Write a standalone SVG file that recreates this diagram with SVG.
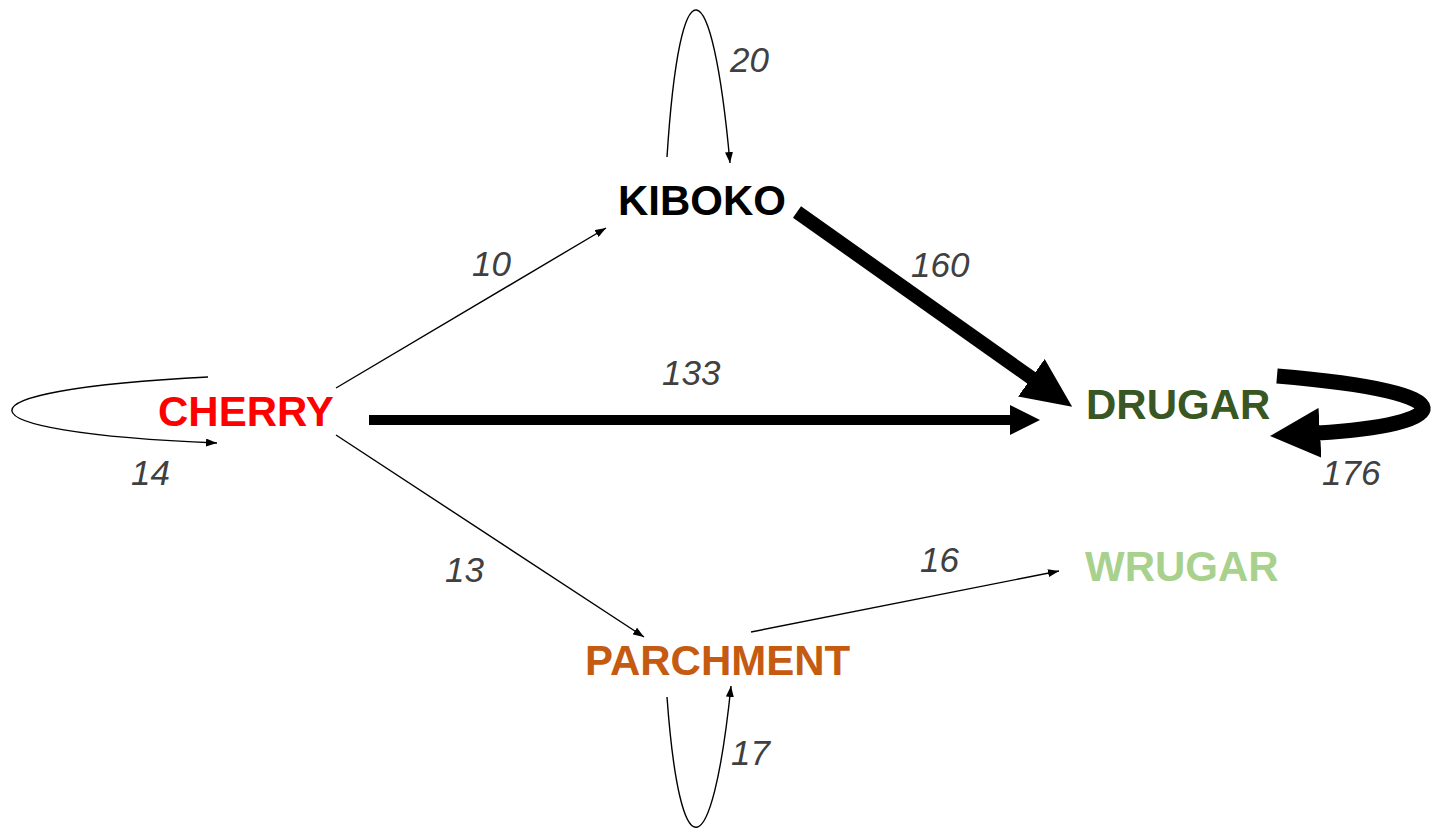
<svg xmlns="http://www.w3.org/2000/svg" width="1435" height="832" viewBox="0 0 1435 832">
<style>
.node{font-family:"Liberation Sans",Arial,sans-serif;font-weight:bold;font-size:42px}
.lbl{font-family:"Liberation Sans",Arial,sans-serif;font-style:italic;font-size:35px;fill:#404040}
.thin{fill:none;stroke:#000;stroke-width:1.4}
</style>
<defs>
<marker id="a" viewBox="0 0 11 8" markerWidth="11" markerHeight="8" refX="11" refY="4" orient="auto" markerUnits="userSpaceOnUse"><path d="M0,0 L11,4 L0,8 Z" fill="#000"/></marker>
<marker id="b1" viewBox="0 0 30 30" markerWidth="30" markerHeight="30" refX="2" refY="15" orient="auto" markerUnits="userSpaceOnUse"><path d="M0,0 L30,15 L0,30 Z" fill="#000"/></marker>
<marker id="b2" viewBox="0 0 50 46" markerWidth="50" markerHeight="46" refX="2" refY="23" orient="auto" markerUnits="userSpaceOnUse"><path d="M0,0 L50,23 L0,46 Z" fill="#000"/></marker>
<marker id="b3" viewBox="0 0 50 50" markerWidth="50" markerHeight="50" refX="2" refY="25" orient="auto" markerUnits="userSpaceOnUse"><path d="M0,0 L50,25 L0,50 Z" fill="#000"/></marker>
</defs>
<g id="connectors">
<path class="thin" d="M208,377 C-55,390 -55,432 217,443" marker-end="url(#a)"/>
<path class="thin" d="M667,157 C680,-45 712,-35 730,163" marker-end="url(#a)"/>
<path class="thin" d="M667,697 C680,875 712,870 731,686" marker-end="url(#a)"/>
<line class="thin" x1="336" y1="388" x2="606" y2="228" marker-end="url(#a)"/>
<line class="thin" x1="336" y1="435" x2="644" y2="637" marker-end="url(#a)"/>
<line class="thin" x1="751" y1="632" x2="1059" y2="571" marker-end="url(#a)"/>
<line x1="369" y1="420" x2="1012" y2="420" stroke="#000" stroke-width="10" marker-end="url(#b1)"/>
<line x1="797" y1="212" x2="1033" y2="379" stroke="#000" stroke-width="14" marker-end="url(#b2)"/>
<path d="M1277,376 C1480,393 1450,425 1318,433" fill="none" stroke="#000" stroke-width="15" marker-end="url(#b3)"/>
</g>
<g id="labels">
<text class="lbl" x="730" y="72">20</text>
<text class="lbl" x="472" y="276">10</text>
<text class="lbl" x="911" y="277">160</text>
<text class="lbl" x="662" y="385">133</text>
<text class="lbl" x="131" y="485">14</text>
<text class="lbl" x="1322" y="485">176</text>
<text class="lbl" x="445" y="582">13</text>
<text class="lbl" x="920" y="572">16</text>
<text class="lbl" x="731" y="765">17</text>
</g>
<g id="cherry"><text class="node" x="158" y="426" fill="#ff0000">CHERRY</text></g>
<g id="kiboko"><text class="node" x="618" y="215" fill="#000000">KIBOKO</text></g>
<g id="drugar"><text class="node" x="1086" y="419" fill="#385723">DRUGAR</text></g>
<g id="parchment"><text class="node" x="585" y="675" fill="#c55a11">PARCHMENT</text></g>
<g id="wrugar"><text class="node" x="1085" y="581" fill="#a9d18e">WRUGAR</text></g>
</svg>
